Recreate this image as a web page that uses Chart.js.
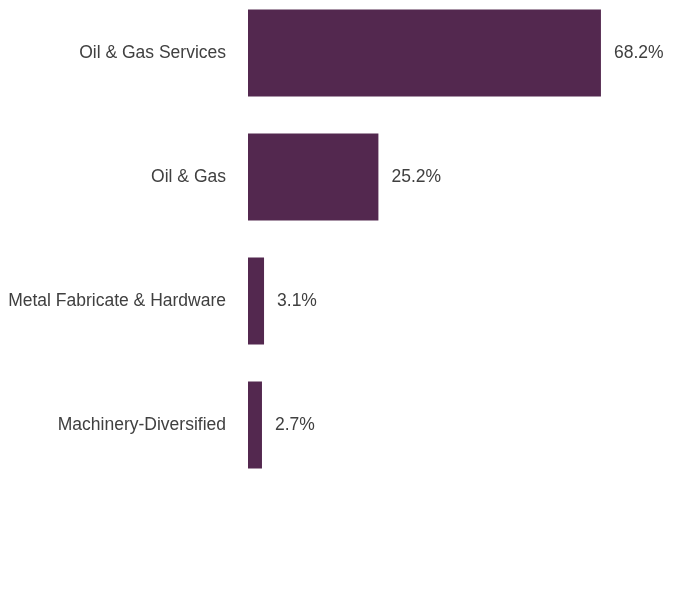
<!DOCTYPE html>
<html>
<head>
<meta charset="utf-8">
<script src="https://cdn.jsdelivr.net/npm/chart.js@4/dist/chart.umd.min.js"></script>
<style>
  html, body { margin: 0; padding: 0; background: #fff; overflow: hidden; }
  body { width: 696px; height: 600px; position: relative; }
  #wrap { position: absolute; left: 0; top: -9px; width: 696px; height: 496px; }
</style>
</head>
<body>
<div id="wrap"><canvas id="myChart"></canvas></div>
<script>
// industry weights
var labels = ["Oil & Gas Services", "Oil & Gas", "Metal Fabricate & Hardware", "Machinery-Diversified"];
var data = [68.2, 25.2, 3.1, 2.7];

var textColor = "#404040";
var barColor = "#53284F";
var fontFamily = "'Liberation Sans', Arial, sans-serif";
var fontSize = 17.5;

// writes the value after the end of each bar
var valueLabels = {
  id: 'valueLabels',
  afterDatasetsDraw: function(chart) {
    var ctx = chart.ctx;
    ctx.save();
    ctx.font = fontSize + "px " + fontFamily;
    ctx.fillStyle = textColor;
    ctx.textAlign = "left";
    ctx.textBaseline = "middle";
    chart.getDatasetMeta(0).data.forEach(function(bar, i) {
      ctx.fillText(data[i].toFixed(1) + "%", bar.x + 13, bar.y);
    });
    ctx.restore();
  }
};

var ctx = document.getElementById("myChart").getContext('2d');
var myChart = new Chart(ctx, {
  type: 'bar',
  data: {
    labels: labels,
    datasets: [{
      data: data,
      backgroundColor: barColor,
      borderWidth: 0,
      categoryPercentage: 0.7,
      barPercentage: 1.0
    }]
  },
  options: {
    indexAxis: 'y',
    responsive: true,
    maintainAspectRatio: false,
    animation: false,
    layout: { padding: { left: 0, right: 34, top: 0, bottom: 0 } },
    plugins: {
      legend: { display: false },
      tooltip: { enabled: false }
    },
    scales: {
      x: {
        display: false,
        min: 0,
        max: 80
      },
      y: {
        grid: { display: false, drawTicks: false },
        border: { display: false },
        ticks: {
          color: textColor,
          padding: 22,
          font: { size: fontSize, family: fontFamily }
        },
        afterFit: function(scale) {
          scale.width = 248;
          // no extra room above/below the categories
          scale.paddingTop = 0;
          scale.paddingBottom = 0;
        }
      }
    }
  },
  plugins: [valueLabels]
});
</script>
</body>
</html>
